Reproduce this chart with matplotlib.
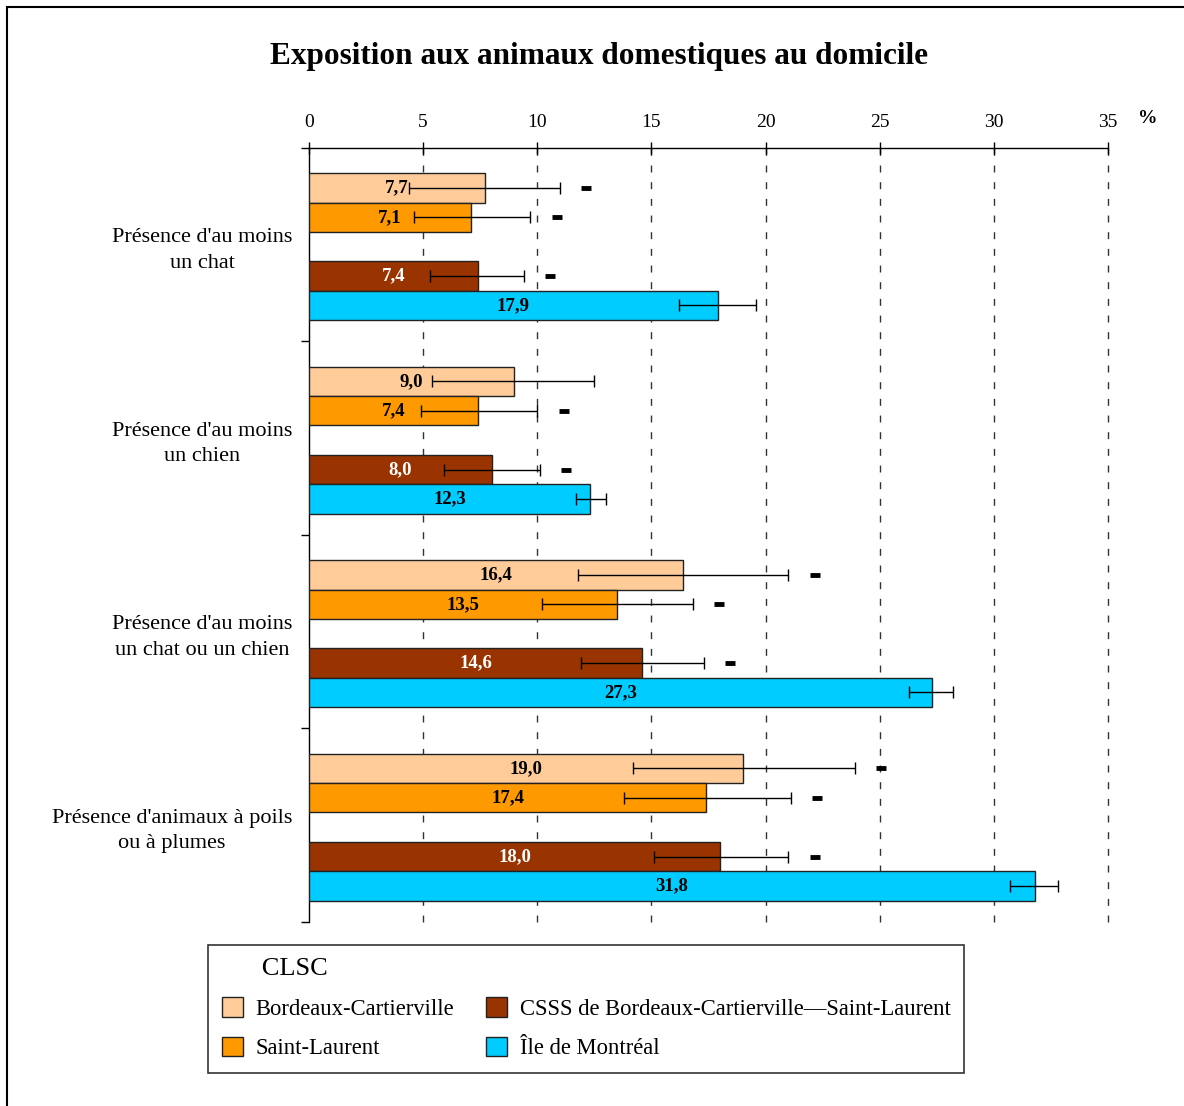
import matplotlib.pyplot as plt
from matplotlib.patches import Patch, Rectangle
import numpy as np

plt.rcParams['font.family'] = ['Liberation Serif', 'DejaVu Serif']

# data
categories = ["Présence d'au moins\nun chat",
              "Présence d'au moins\nun chien",
              "Présence d'au moins\nun chat ou un chien",
              "Présence d'animaux à poils\nou à plumes"]
series = ['Bordeaux-Cartierville', 'Saint-Laurent',
          'CSSS de Bordeaux-Cartierville\u2014Saint-Laurent', 'Île de Montréal']

bc = [7.7, 9.0, 16.4, 19.0]
bc_low = [4.4, 5.4, 11.8, 14.2]
bc_high = [11.0, 12.5, 21.0, 23.9]
bc_sig = [True, False, True, True]

sl = [7.1, 7.4, 13.5, 17.4]
sl_low = [4.6, 4.9, 10.2, 13.8]
sl_high = [9.7, 10.0, 16.8, 21.1]
sl_sig = [True, True, True, True]

csss = [7.4, 8.0, 14.6, 18.0]
csss_low = [5.3, 5.9, 11.9, 15.1]
csss_high = [9.4, 10.1, 17.3, 21.0]
csss_sig = [True, True, True, True]

mtl = [17.9, 12.3, 27.3, 31.8]
mtl_low = [16.2, 11.7, 26.3, 30.7]
mtl_high = [19.6, 13.0, 28.2, 32.8]
mtl_sig = [False, False, False, False]

values = [bc, sl, csss, mtl]
lows = [bc_low, sl_low, csss_low, mtl_low]
highs = [bc_high, sl_high, csss_high, mtl_high]
sigs = [bc_sig, sl_sig, csss_sig, mtl_sig]

colors = ['#FFCC99', '#FF9900', '#993300', '#00CCFF']
label_colors = ['black', 'black', 'white', 'black']

fig = plt.figure(figsize=(11.84, 11.06), dpi=100)
ax = fig.add_axes([0.261, 0.1664, 0.6748, 0.6998])

slot_h = 0.152
top_gap = 0.13
slots = [0, 1, 3, 4]
cat = np.arange(len(categories))

for i in range(4):
    y = cat + top_gap + slot_h * slots[i] + slot_h / 2
    v = np.array(values[i])
    lo = v - np.array(lows[i])
    hi = np.array(highs[i]) - v
    ax.barh(y, v, height=slot_h, color=colors[i], edgecolor='#222222',
            linewidth=1, zorder=3)
    ax.errorbar(v, y, xerr=[lo, hi], fmt='none', ecolor='black',
                elinewidth=1, capsize=4, capthick=1, zorder=4)
    for j in range(len(v)):
        ax.text(v[j] / 2, y[j], f'{v[j]:.1f}'.replace('.', ','),
                ha='center', va='center', fontsize=13.5, fontweight='bold',
                color=label_colors[i], zorder=5)
        if sigs[i][j]:
            ax.plot(highs[i][j] + 1.15, y[j], marker='_', ms=7, mew=3.5,
                    color='black', zorder=5)

ax.set_xlim(0, 35)
ax.set_ylim(4, 0)
ax.set_xticks(np.arange(0, 36, 5))
ax.xaxis.tick_top()
ax.tick_params(axis='x', direction='inout', length=9, width=1, pad=8,
               labelsize=14)
ax.set_yticks(np.arange(0, 5))
ax.set_yticklabels([])
ax.set_yticks(cat + 0.5, minor=True)
ax.set_yticklabels(categories, minor=True, fontsize=16, ha='right',
                   multialignment='center', linespacing=1.45)
ax.tick_params(axis='y', which='major', direction='out', length=6, width=1)
ax.tick_params(axis='y', which='minor', length=0, pad=12)

for x in np.arange(5, 36, 5):
    ax.axvline(x, color='#333333', linewidth=1, dashes=(5, 7), zorder=1,
               clip_on=False)

ax.spines['right'].set_visible(False)
ax.spines['bottom'].set_visible(False)
ax.spines['top'].set_linewidth(1)
ax.spines['left'].set_linewidth(1)

fig.text(0.961, 0.893, '%', ha='left', va='center', fontsize=14,
         fontweight='bold')
fig.text(0.506, 0.949, 'Exposition aux animaux domestiques au domicile',
         ha='center', va='center', fontsize=22.5, fontweight='bold')

handles = [Patch(facecolor=c, edgecolor='#222222', linewidth=1) for c in colors]
leg = fig.legend(handles, series, ncol=2, title='CLSC', loc='lower left',
                 bbox_to_anchor=(0.1757, 0.0298), frameon=True, fancybox=False,
                 edgecolor='black', alignment='left', fontsize=16.3,
                 title_fontsize=19, handlelength=0.95, handleheight=0.95,
                 handletextpad=0.55, columnspacing=1.4, borderpad=0.6,
                 labelspacing=0.75, borderaxespad=0)
leg.get_frame().set_linewidth(1.2)
leg.get_title().set_text('      CLSC')

fig.add_artist(Rectangle((0.006, -0.05), 1.1, 1.0437, transform=fig.transFigure,
                         fill=False, linewidth=1.5, edgecolor='black'))

plt.savefig('out.png', dpi=100)
